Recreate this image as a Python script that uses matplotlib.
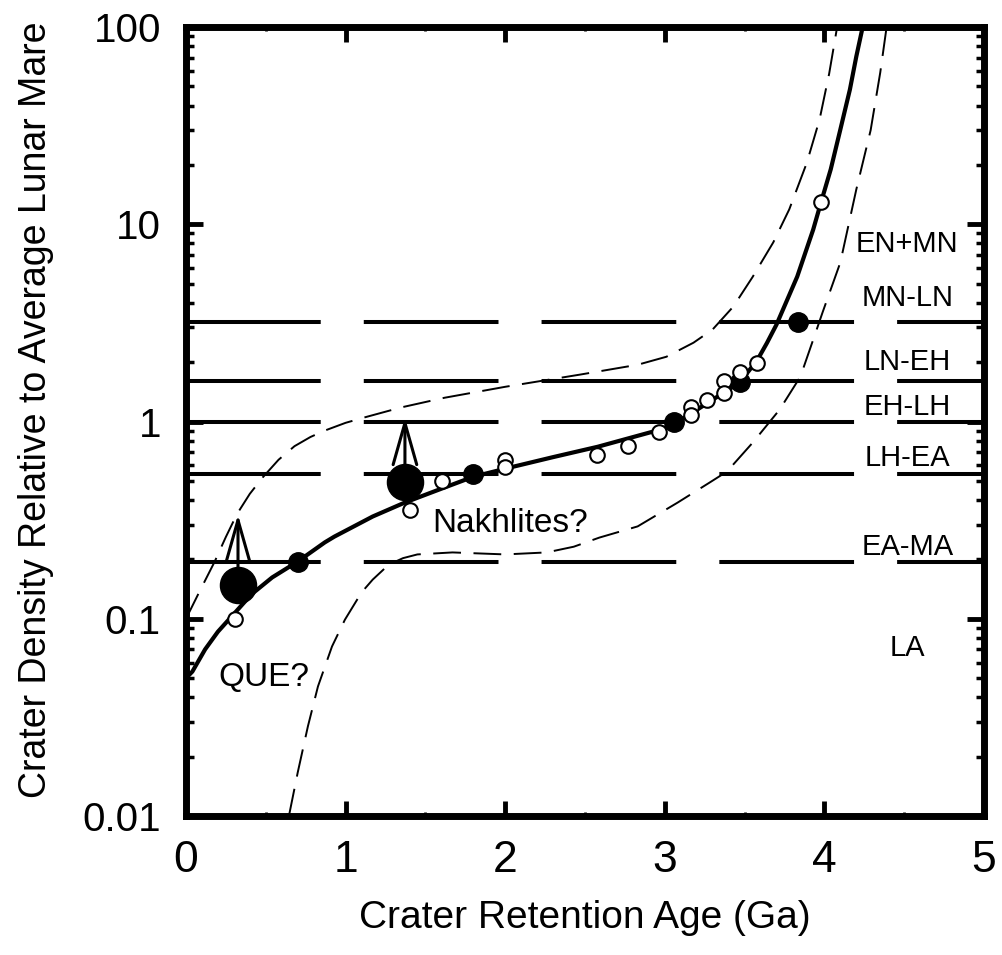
import matplotlib
matplotlib.use("Agg")
import matplotlib.pyplot as plt
from matplotlib.ticker import FixedLocator, LogLocator, NullFormatter, MultipleLocator

plt.rcParams['font.family'] = ['Liberation Sans', 'DejaVu Sans']
plt.rcParams['lines.scale_dashes'] = False

# model curve
fit_t = [0.00, 0.04, 0.12, 0.20, 0.31, 0.41, 0.54, 0.70, 0.87, 0.93, 1.17, 1.37,
         1.58, 1.80, 2.05, 2.30, 2.58, 2.95, 3.06, 3.30, 3.47, 3.58, 3.64, 3.70,
         3.83, 3.93, 3.98, 4.04, 4.10, 4.16, 4.20, 4.24]
fit_v = [0.050, 0.054, 0.070, 0.086, 0.108, 0.133, 0.162, 0.195, 0.244, 0.261, 0.33, 0.388,
         0.45, 0.525, 0.59, 0.66, 0.745, 0.90, 0.97, 1.29, 1.58, 2.05, 2.5, 3.1,
         5.43, 9.4, 13.0, 19.0, 30.2, 48.2, 70.8, 100.0]

# upper / lower envelopes
up_t = [0.00, 0.08, 0.18, 0.25, 0.32, 0.40, 0.48, 0.58, 0.68, 0.78, 0.87, 1.00, 1.12,
        1.35, 1.62, 2.00, 2.47, 2.83, 3.01, 3.18, 3.30, 3.43, 3.55, 3.68, 3.78,
        3.89, 3.97, 4.03, 4.08]
up_v = [0.10, 0.135, 0.195, 0.26, 0.34, 0.43, 0.52, 0.64, 0.75, 0.835, 0.90, 0.985, 1.05,
        1.18, 1.32, 1.50, 1.73, 1.94, 2.13, 2.51, 2.93, 3.83, 5.4, 8.1, 11.9,
        20.5, 34.0, 58.0, 100.0]
lo_t = [0.645, 0.70, 0.764, 0.827, 0.915, 0.996, 1.10, 1.17, 1.27, 1.36, 1.45, 1.67, 2.00,
        2.26, 2.43, 2.59, 2.83, 3.08, 3.28, 3.39, 3.55, 3.72, 3.85, 3.93, 3.99,
        4.10, 4.20, 4.29, 4.35, 4.39]
lo_v = [0.010, 0.0166, 0.0285, 0.0454, 0.0724, 0.099, 0.136, 0.158, 0.188, 0.203, 0.212, 0.217, 0.212,
        0.217, 0.232, 0.258, 0.294, 0.388, 0.49, 0.558, 0.78, 1.15, 1.69, 2.6, 3.6,
        6.4, 15.0, 30.0, 58.7, 100.0]

# data points
big_t = [0.326, 1.372]
big_v = [0.149, 0.491]
big_tip = [0.338, 1.05]
dot_t = [0.70, 1.80, 3.06, 3.47, 3.835]
dot_v = [0.195, 0.545, 0.99, 1.58, 3.18]
open_t = [0.307, 1.404, 1.604, 1.999, 1.999, 2.575, 2.77, 2.964, 3.164, 3.164,
          3.264, 3.371, 3.371, 3.47, 3.578, 3.979]
open_v = [0.100, 0.354, 0.497, 0.64, 0.59, 0.68, 0.755, 0.89, 1.19, 1.08,
          1.29, 1.60, 1.40, 1.79, 1.99, 13.0]

# epoch boundaries
bound_v = [3.2, 1.6, 1.0, 0.54, 0.195]
epoch_names = ['EN+MN', 'MN-LN', 'LN-EH', 'EH-LH', 'LH-EA', 'EA-MA', 'LA']
epoch_y = [7.98, 4.25, 2.01, 1.18, 0.657, 0.232, 0.0707]

fig = plt.figure(figsize=(10.02, 9.55), dpi=100)
ax = fig.add_axes([0.1856, 0.1455, 0.7964, 0.8262])
ax.set_yscale('log')
ax.set_xlim(0, 5)
ax.set_ylim(0.01, 100)

for v in bound_v:
    ax.axhline(v, color='k', lw=2.9, dashes=(97, 31), zorder=2)

ax.plot(up_t, up_v, color='k', lw=1.4, dashes=(20, 9), zorder=3)
ax.plot(lo_t, lo_v, color='k', lw=1.4, dashes=(20, 9), zorder=3)
ax.plot(fit_t, fit_v, color='k', lw=3.0, zorder=4, solid_capstyle='round')

for t, v, tip in zip(big_t, big_v, big_tip):
    ax.annotate('', xy=(t, tip), xytext=(t, v),
                arrowprops=dict(arrowstyle='->, head_length=3.0, head_width=0.85',
                                lw=2.2, color='k', shrinkA=0, shrinkB=0), zorder=5)

ax.plot(big_t, big_v, 'o', ms=26, color='k', zorder=6)
ax.plot(dot_t, dot_v, 'o', ms=14, color='k', zorder=6)
ax.plot(open_t, open_v, 'o', ms=10.5, mfc='white', mec='k', mew=1.5, zorder=7)

for name, y in zip(epoch_names, epoch_y):
    ax.text(4.52, y, name, fontsize=21, ha='center', va='center', zorder=8)
ax.text(1.54, 0.274, 'Nakhlites?', fontsize=24, ha='left', va='baseline')
ax.text(0.20, 0.0459, 'QUE?', fontsize=24, ha='left', va='baseline')

ax.yaxis.set_major_locator(FixedLocator([0.01, 0.1, 1, 10, 100]))
ax.set_yticklabels(['0.01', '0.1', '1', '10', '100'])
ax.yaxis.set_minor_locator(LogLocator(base=10, subs=range(2, 10)))
ax.yaxis.set_minor_formatter(NullFormatter())
ax.set_xticks([0, 1, 2, 3, 4, 5])
ax.xaxis.set_minor_locator(MultipleLocator(0.5))

ax.tick_params(which='both', direction='in', top=True, right=True)
ax.tick_params(axis='x', which='major', length=11, width=3.5, pad=17, labelsize=32)
ax.tick_params(axis='y', which='major', length=12, width=3.5, pad=18, labelsize=29)
ax.tick_params(axis='x', which='minor', length=3, width=2)
ax.tick_params(axis='y', which='minor', length=6, width=2.5)
for s in ax.spines.values():
    s.set_linewidth(5)

ax.set_xlabel('Crater Retention Age (Ga)', fontsize=28)
ax.xaxis.set_label_coords(0.5, -0.106)
ax.set_ylabel('Crater Density Relative to Average Lunar Mare', fontsize=27)
ax.yaxis.set_label_coords(-0.166, 0.515)

fig.savefig('out.png', dpi=100)
